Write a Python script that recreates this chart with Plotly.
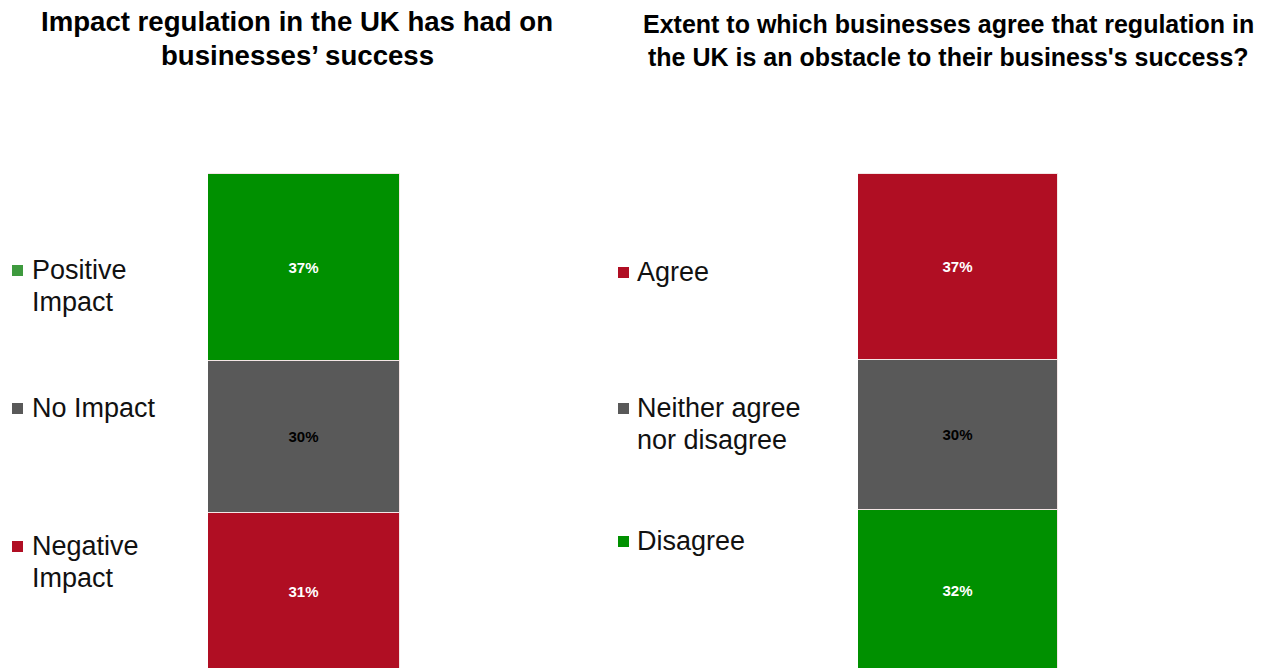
import plotly.graph_objects as go

# Left chart: impact of UK regulation on business success (stacked bottom -> top)
impact_labels = ["Negative Impact", "No Impact", "Positive Impact"]
impact_values = [31, 30, 37]
impact_colors = ["#B00E23", "#595959", "#009000"]
impact_text_colors = ["white", "black", "white"]

# Right chart: agreement that regulation is an obstacle (stacked bottom -> top)
obstacle_labels = ["Disagree", "Neither agree nor disagree", "Agree"]
obstacle_values = [32, 30, 37]
obstacle_colors = ["#009000", "#595959", "#B00E23"]
obstacle_text_colors = ["white", "black", "white"]

W, H = 1269, 668

fig = go.Figure()


def add_stack(labels, values, colors, tcolors, xaxis, yaxis):
    for lab, val, col, tc in zip(labels, values, colors, tcolors):
        fig.add_trace(go.Bar(
            x=[0], y=[val], name=lab, width=1,
            marker=dict(color=col, line=dict(color="#f4e6e6", width=1)),
            text=[f"<b>{val}%</b>"], textposition="inside", insidetextanchor="middle",
            textfont=dict(family="Liberation Sans", size=15, color=tc),
            textangle=0,
            xaxis=xaxis, yaxis=yaxis, showlegend=False, hoverinfo="skip",
        ))


add_stack(impact_labels, impact_values, impact_colors, impact_text_colors, "x", "y")
add_stack(obstacle_labels, obstacle_values, obstacle_colors, obstacle_text_colors, "x2", "y2")

# value axes span the full page height; each stack fills the same height
axis_common = dict(visible=False, fixedrange=True)
fig.update_layout(
    width=W, height=H,
    barmode="stack",
    bargap=0,
    plot_bgcolor="white", paper_bgcolor="white",
    margin=dict(l=0, r=0, t=0, b=0),
    xaxis=dict(domain=[208 / W, 400 / W], range=[-0.5, 0.5], **axis_common),
    yaxis=dict(range=[0.4, 132.4], **axis_common),
    xaxis2=dict(domain=[858 / W, 1058 / W], range=[-0.5, 0.5], anchor="y2", **axis_common),
    yaxis2=dict(range=[0.5, 133.7], anchor="x2", **axis_common),
    showlegend=False,
)


def py(px):
    return 1 - px / H


def add_text(text, x, y, font, xanchor="left"):
    fig.add_annotation(
        x=x / W, y=py(y), xref="paper", yref="paper", xanchor=xanchor, yanchor="middle",
        text=text, showarrow=False, font=font,
    )


# Titles, one annotation per line
left_title_font = dict(family="Liberation Sans", size=27.6, color="black")
right_title_font = dict(family="Liberation Sans", size=25, color="black")
add_text("<b>Impact regulation in the UK has had on</b>", 297, 22, left_title_font, "center")
add_text("<b>businesses’ success</b>", 297, 55, left_title_font, "center")
add_text("<b>Extent to which businesses agree that regulation in</b>", 948, 24, right_title_font, "center")
add_text("<b>the UK is an obstacle to their business's success?</b>", 948, 57, right_title_font, "center")

# Legend entries: square swatch plus label lines
legend_font = dict(family="Liberation Sans", size=27, color="#111111")
left_legend = [
    (["Positive", "Impact"], "#3E9A3E", 270),
    (["No Impact"], "#595959", 408),
    (["Negative", "Impact"], "#B00E23", 546),
]
right_legend = [
    (["Agree"], "#B00E23", 272),
    (["Neither agree", "nor disagree"], "#595959", 408),
    (["Disagree"], "#009000", 541),
]
line_h = 32


def add_legend(entries, sq_x, txt_x):
    for lines, col, y_first in entries:
        fig.add_shape(
            type="rect", xref="paper", yref="paper",
            x0=sq_x / W, x1=(sq_x + 11) / W,
            y0=py(y_first + 6), y1=py(y_first - 5),
            fillcolor=col, line=dict(width=0),
        )
        for i, line in enumerate(lines):
            add_text(line, txt_x, y_first + i * line_h, legend_font)


add_legend(left_legend, 12, 30)
add_legend(right_legend, 618, 635)

fig.write_html("out.html", config={"displayModeBar": False})
